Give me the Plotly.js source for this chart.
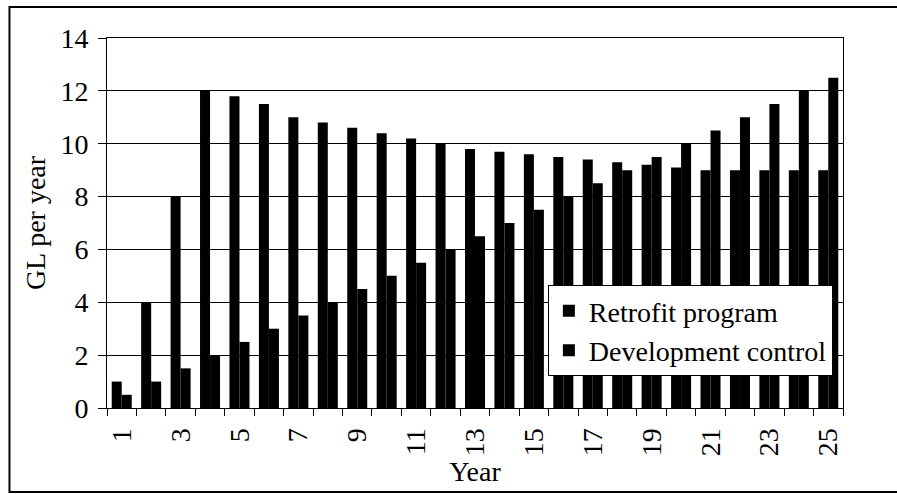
<!DOCTYPE html>
<html>
<head>
<meta charset="utf-8">
<script src="https://cdn.plot.ly/plotly-3.0.1.min.js"></script>
</head>
<body style="margin:0">
<div id="chart" style="width:897px;height:494px"></div>
<script>
const years = ['1','2','3','4','5','6','7','8','9','10','11','12','13','14','15','16','17','18','19','20','21','22','23','24','25'];
const retrofit = [1.0, 4.0, 8.0, 12.0, 11.8, 11.5, 11.0, 10.8, 10.6, 10.4, 10.2, 10.0, 9.8, 9.7, 9.6, 9.5, 9.4, 9.3, 9.2, 9.1, 9.0, 9.0, 9.0, 9.0, 9.0];
const development = [0.5, 1.0, 1.5, 2.0, 2.5, 3.0, 3.5, 4.0, 4.5, 5.0, 5.5, 6.0, 6.5, 7.0, 7.5, 8.0, 8.5, 9.0, 9.5, 10.0, 10.5, 11.0, 11.5, 12.0, 12.5];
const seriesNames = ['Retrofit program', 'Development control'];
const yTicks = [0, 2, 4, 6, 8, 10, 12, 14];

const FS = 28;

const traces = [
  {type:'bar', x: years, y: retrofit, name: seriesNames[0], legendgroup:'a',
   marker:{color:'#000000', line:{width:0}}},
  {type:'bar', x: years, y: development, name: seriesNames[1], legendgroup:'b',
   marker:{color:'#000000', line:{width:0}}}
];

const layout = {
  width: 897, height: 494,
  margin: {l:107, r:54, t:38, b:86},
  paper_bgcolor:'#ffffff', plot_bgcolor:'#ffffff',
  barmode:'group', bargap:0.32, bargroupgap:0,
  showlegend:true,
  legend:{x:0.599, y:0.332, xanchor:'left', yanchor:'top',
    bgcolor:'#ffffff', bordercolor:'#000000', borderwidth:1,
    font:{family:'Liberation Serif', size:FS, color:'#000000'}, tracegroupgap:0,
    traceorder:'normal', itemwidth:30},
  xaxis:{
    type:'category', tickmode:'linear', tick0:0, dtick:1,
    tickson:'boundaries', ticklabelstep:2,
    ticks:'outside', ticklen:7, tickcolor:'#000000', tickwidth:1,
    ticklabelstandoff:8,
    tickangle:-90, showgrid:false, zeroline:false,
    showline:true, linecolor:'#000000', linewidth:1, mirror:true,
    tickfont:{family:'Liberation Serif', size:FS, color:'#000000'},
    title:{text:'Year', font:{family:'Liberation Serif', size:FS, color:'#000000'}, standoff:4}
  },
  yaxis:{
    range:[0,14], tickmode:'array', tickvals:yTicks,
    ticks:'outside', ticklen:8, tickcolor:'#000000', tickwidth:1,
    ticklabelstandoff:4,
    showgrid:true, gridcolor:'#000000', gridwidth:1, zeroline:false,
    showline:true, linecolor:'#000000', linewidth:1, mirror:true,
    tickfont:{family:'Liberation Serif', size:FS, color:'#000000'},
    title:{text:'GL per year', font:{family:'Liberation Serif', size:FS, color:'#000000'}, standoff:6}
  },
  shapes:[
    {type:'rect', xref:'paper', yref:'paper', x0:-0.1325, x1:1.12, y0:-0.227, y1:1.0838,
     line:{color:'#000000', width:2}, fillcolor:'rgba(0,0,0,0)', layer:'below'}
  ]
};

Plotly.newPlot('chart', traces, layout, {displayModeBar:false, staticPlot:true});
</script>
</body>
</html>
